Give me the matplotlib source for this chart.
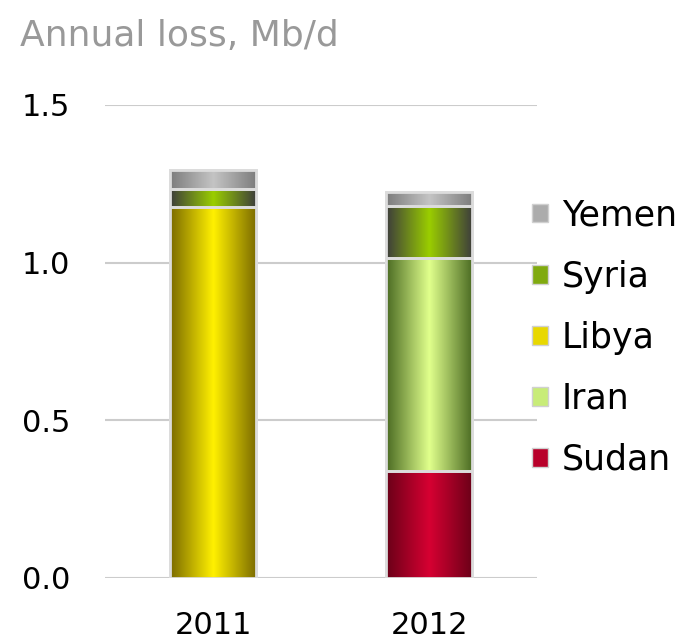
import numpy as np
import matplotlib as mpl
mpl.use('Agg')
import matplotlib.pyplot as plt
from matplotlib.colors import LinearSegmentedColormap

plt.rcParams['font.family'] = ['DejaVu Sans']

years = ['2011', '2012']
countries = ['Sudan', 'Iran', 'Libya', 'Syria', 'Yemen']
sudan = [0.0, 0.34]
iran = [0.0, 0.675]
libya = [1.175, 0.0]
syria = [0.06, 0.165]
yemen = [0.06, 0.045]

# (edge, centre) colours of the cylinder shading
shades = {
    'Sudan': ('#6a0018', '#d60032'),
    'Iran': ('#4a6a22', '#e0ff8c'),
    'Libya': ('#7a6a00', '#fff000'),
    'Syria': ('#3c3c3c', '#9acd00'),
    'Yemen': ('#7c7c7c', '#c4c4c4'),
}
legend_colors = {
    'Sudan': '#b8002a',
    'Iran': '#c8ec78',
    'Libya': '#e8d800',
    'Syria': '#80aa10',
    'Yemen': '#acacac',
}

fig = plt.figure(figsize=(6.87, 6.4), dpi=100)
ax = fig.add_axes([0.153, 0.0969, 0.629, 0.7391])

x = np.arange(len(years))
width = 0.4
bottom = np.zeros(len(years))
grad = np.linspace(0, 1, 256)
grad = 1 - np.abs(grad - 0.5) * 2
grad = grad[np.newaxis, :]

handles = []
for name, vals in zip(countries, [sudan, iran, libya, syria, yemen]):
    edge, centre = shades[name]
    cmap = LinearSegmentedColormap.from_list(name, [edge, centre])
    bars = ax.bar(x, vals, width, bottom=bottom, color=centre,
                  edgecolor='#dcdcdc', linewidth=2, zorder=2)
    for b in bars:
        if b.get_height() <= 0:
            b.set_visible(False)
            continue
        x0, y0 = b.get_x(), b.get_y()
        im = ax.imshow(grad, cmap=cmap, aspect='auto', zorder=2.5,
                       extent=[x0, x0 + b.get_width(), y0, y0 + b.get_height()])
        im.set_clip_path(b)
        ax.bar(x0 + b.get_width() / 2, b.get_height(), b.get_width(), bottom=y0,
               facecolor='none', edgecolor='#dcdcdc', linewidth=2, zorder=3)
    handles.append(plt.Rectangle((0, 0), 1, 1, facecolor=legend_colors[name],
                                 edgecolor='#d0d0d0', linewidth=1))
    bottom += np.array(vals)

ax.set_xlim(-0.5, 1.5)
ax.set_ylim(0, 1.5)
ax.set_yticks([0, 0.5, 1.0, 1.5])
ax.set_yticklabels(['0.0', '0.5', '1.0', '1.5'])
ax.set_xticks(x)
ax.set_xticklabels(years)
ax.tick_params(length=0, labelsize=22)
ax.tick_params(axis='x', pad=24)
ax.tick_params(axis='y', pad=25)
ax.yaxis.grid(True, color='#cccccc', linewidth=1.5, zorder=0)
ax.set_axisbelow(True)
for s in ax.spines.values():
    s.set_visible(False)

fig.text(0.029, 0.944, 'Annual loss, Mb/d', color='#999999', fontsize=26,
         va='center', ha='left')

ax.legend(handles[::-1], countries[::-1], loc='center left',
          bbox_to_anchor=(0.916, 0.508), frameon=False, fontsize=25,
          handlelength=0.45, handleheight=0.45, handletextpad=0.4,
          labelspacing=0.78)

fig.savefig('out.png', dpi=100)
